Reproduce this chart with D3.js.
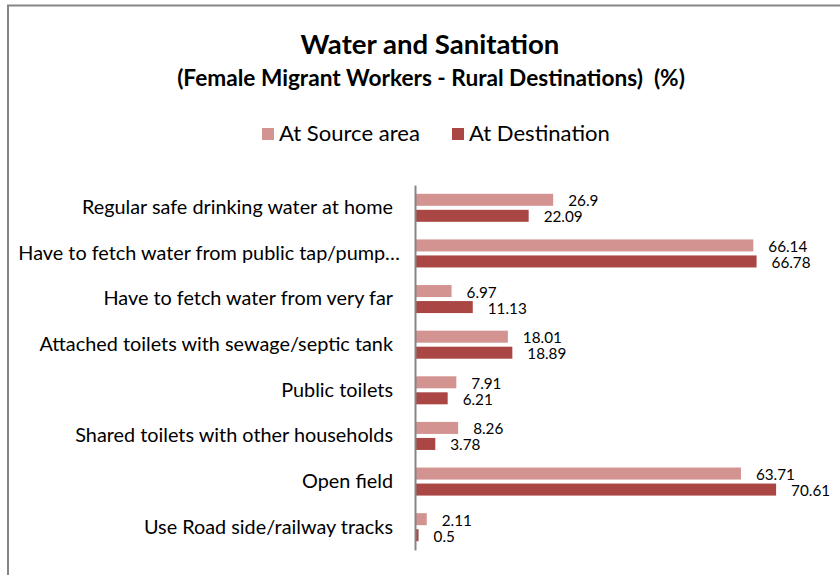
<!DOCTYPE html>
<html>
<head>
<meta charset="utf-8">
<script src="https://cdn.jsdelivr.net/npm/d3@7"></script>
<style>
body { margin: 0; background: #fff; }
text { font-family: Lato, sans-serif; fill: #000; }
</style>
</head>
<body>
<svg id="chart" width="840" height="575"></svg>
<script>
var categories = [
  "Regular safe drinking water at home",
  "Have to fetch water from public tap/pump\u2026",
  "Have to fetch water from very far",
  "Attached toilets with sewage/septic tank",
  "Public toilets",
  "Shared toilets with other households",
  "Open field",
  "Use Road side/railway tracks"
];
var seriesNames = ["At Source area", "At Destination"];
var sourceValues = [26.9, 66.14, 6.97, 18.01, 7.91, 8.26, 63.71, 2.11];
var destValues = [22.09, 66.78, 11.13, 18.89, 6.21, 3.78, 70.61, 0.5];
var colors = ["#D39391", "#AA4643"];

var svg = d3.select("#chart");

// size a font so that one sample text gets the width it has in the original
function fitSize(node, target){
  var fs = parseFloat(d3.select(node).style("font-size"));
  return fs * target / node.getComputedTextLength();
}

// chart frame (runs off the right and bottom of the picture)
svg.append("rect").attr("x", 8).attr("y", 5.5).attr("width", 900).attr("height", 700)
  .attr("fill", "none").attr("stroke", "#868686").attr("stroke-width", 2);

var title = svg.append("text").attr("x", 430).attr("y", 54).attr("text-anchor", "middle")
  .style("font-size", "24px").style("font-weight", "bold").text("Water and Sanitation");
title.style("font-size", fitSize(title.node(), 259) + "px");

var sub = svg.append("text").attr("x", 431).attr("y", 86).attr("text-anchor", "middle")
  .style("font-size", "18px").style("font-weight", "bold").style("white-space", "pre")
  .text("(Female Migrant Workers - Rural Destinations)  (%)");
sub.style("font-size", fitSize(sub.node(), 508) + "px");

// legend
var legX = [262, 452];
var legText = svg.selectAll("text.leg").data(seriesNames).enter().append("text").attr("class", "leg")
  .attr("x", (d, i) => legX[i] + 17).attr("y", 140.5).style("font-size", "20px").text(d => d);
var legSize = fitSize(legText.nodes()[0], 141);
legText.style("font-size", legSize + "px");
svg.selectAll("rect.leg").data(seriesNames).enter().append("rect").attr("class", "leg")
  .attr("x", (d, i) => legX[i]).attr("y", 128).attr("width", 12).attr("height", 12)
  .attr("fill", (d, i) => colors[i]);

var x = d3.scaleLinear().domain([0, 80]).range([416, 824]);
var y = d3.scaleBand().domain(categories).range([185, 550]).paddingInner(0.386).paddingOuter(0.193);
var ys = d3.scaleBand().domain([0, 1]).range([0, y.bandwidth()]).paddingInner(0.25);

var rows = categories.map(function(c, i){ return {cat: c, vals: [sourceValues[i], destValues[i]]}; });

var g = svg.selectAll("g.row").data(rows).enter().append("g").attr("class", "row")
  .attr("transform", d => "translate(0," + y(d.cat) + ")");

g.selectAll("rect").data(d => d.vals).enter().append("rect")
  .attr("x", x(0)).attr("y", (d, i) => ys(i))
  .attr("width", d => x(d) - x(0)).attr("height", ys.bandwidth())
  .attr("fill", (d, i) => colors[i]);

var vals = g.selectAll("text.val").data(d => d.vals).enter().append("text").attr("class", "val")
  .attr("x", d => x(d) + 15).attr("y", (d, i) => ys(i) + ys.bandwidth() + 0.5)
  .style("font-size", "16px").text(d => d);
var valSize = fitSize(vals.filter(d => d == 66.78).node(), 39);
vals.style("font-size", valSize + "px");

// category axis
var yAxis = svg.append("g").attr("transform", "translate(415,0)")
  .call(d3.axisLeft(y).tickSize(0).tickPadding(22));
yAxis.select(".domain").attr("stroke", "#868686").attr("stroke-width", 2);
var ticks = yAxis.selectAll("text").style("font-family", "Lato, sans-serif").style("font-size", "18px");
var catSize = fitSize(ticks.filter(d => d == categories[5]).node(), 318);
ticks.style("font-size", catSize + "px");
// the cut-off label runs a little further right in the original
ticks.filter(d => d == categories[1]).attr("x", -15);
</script>
</body>
</html>
